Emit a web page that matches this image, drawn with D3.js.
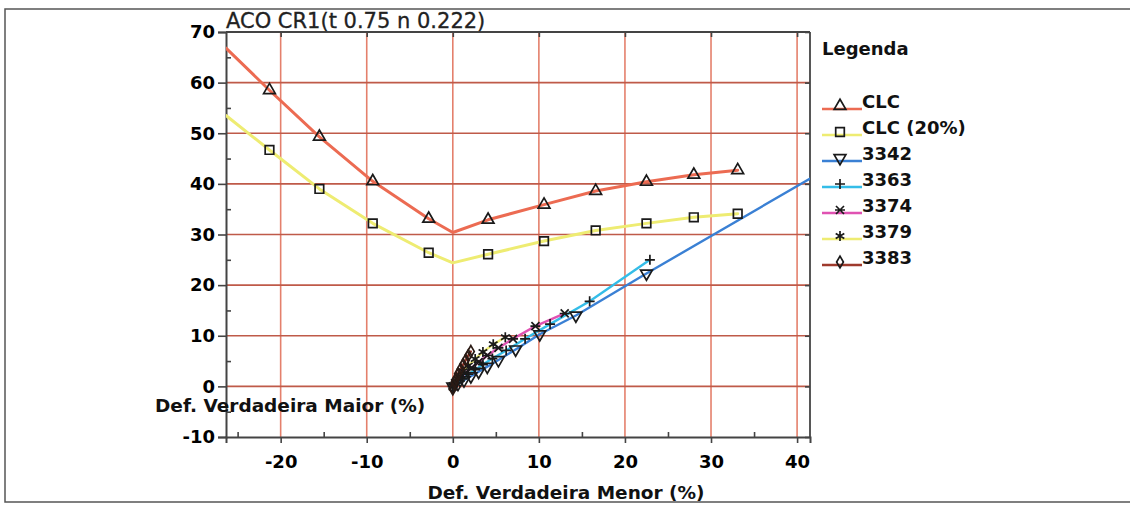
<!DOCTYPE html>
<html>
<head>
<meta charset="utf-8">
<script src="https://cdn.jsdelivr.net/npm/d3@7"></script>
<style>
  html, body { margin: 0; padding: 0; background: #fff; }
  svg { display: block; }
  .tick text { font-family: "DejaVu Sans", sans-serif; font-weight: bold; font-size: 18px; fill: #000; }
</style>
</head>
<body>
<svg id="chart" width="1130" height="506"></svg>
<script>
// ---- data -------------------------------------------------------------
const xTicks = [-20, -10, 0, 10, 20, 30, 40];
const xMinor = [-25, -15, -5, 5, 15, 25, 35];
const yTicks = [-10, 0, 10, 20, 30, 40, 50, 60, 70];
const yMinor = [-5, 5, 15, 25, 35, 45, 55, 65];

// CLC envelope (curve points; marked = drawn with a symbol)
const clcX      = [-26.35, -21.3, -15.5, -9.3, -2.8, 0.0, 4.1, 10.6, 16.6, 22.5, 28.0, 33.1];
const clcY      = [66.8, 58.5, 49.3, 40.5, 33.1, 30.4, 32.9, 35.9, 38.6, 40.4, 41.8, 42.7];
const clc20Y    = [53.5, 46.7, 39.0, 32.2, 26.4, 24.4, 26.1, 28.7, 30.8, 32.2, 33.4, 34.1];
const clcMarked = [false, true, true, true, true, false, true, true, true, true, true, true];

// test paths
const s3342X = [0, 0.6, 1.3, 2.1, 3.0, 4.0, 5.3, 7.3, 10.1, 14.3, 22.5, 44.0];
const s3342Y = [0, 0.5, 1.2, 2.0, 2.9, 3.9, 5.2, 7.3, 10.3, 14.0, 22.3, 43.5];
const s3363X = [0, 0.5, 1.1, 1.8, 2.6, 3.5, 4.6, 6.2, 8.4, 11.3, 15.9, 22.9];
const s3363Y = [0, 0.7, 1.5, 2.4, 3.3, 4.3, 5.5, 7.1, 9.4, 12.3, 16.8, 25.0];
const s3374X = [0, 0.4, 0.9, 1.5, 2.2, 3.0, 4.0, 5.3, 7.0, 9.6, 13.0];
const s3374Y = [0, 0.8, 1.7, 2.7, 3.7, 4.8, 6.1, 7.6, 9.4, 11.9, 14.4];
const s3379X = [0, 0.3, 0.7, 1.2, 1.8, 2.6, 3.5, 4.7, 6.1];
const s3379Y = [0, 0.9, 1.9, 3.0, 4.1, 5.4, 6.8, 8.3, 9.7];
const s3383X = [0, 0.2, 0.4, 0.6, 0.9, 1.2, 1.5, 1.8, 2.1];
const s3383Y = [-0.5, 0.8, 1.6, 2.5, 3.4, 4.3, 5.2, 6.1, 6.9];

const seriesNames = ["CLC", "CLC (20%)", "3342", "3363", "3374", "3379", "3383"];
const seriesColors = ["#ec6b52", "#eeec72", "#3a80d4", "#34bde8", "#e052b2", "#eeec72", "#9e3a2c"];

// ---- layout -----------------------------------------------------------
const svg = d3.select("#chart");
const pLeft = 226, pRight = 810, pTop = 32, pBottom = 437;
const x = d3.scaleLinear().domain([-26.35, 41.5]).range([pLeft, pRight]);
const y = d3.scaleLinear().domain([-10, 70]).range([pBottom, pTop]);
const plainNum = d => String(d);   // ASCII hyphen for negatives

// outer frame
svg.append("rect").attr("x", 5).attr("y", 9).attr("width", 1140).attr("height", 493)
  .attr("fill", "none").attr("stroke", "#555").attr("stroke-width", 1.5);

// grid
svg.append("g").selectAll("line").data(xTicks).join("line")
  .attr("x1", d => x(d)).attr("x2", d => x(d)).attr("y1", pTop).attr("y2", pBottom)
  .attr("stroke", "#e4806c").attr("stroke-width", 1.6);
svg.append("g").selectAll("line").data(yTicks.filter(v => v > -10 && v < 70)).join("line")
  .attr("x1", pLeft).attr("x2", pRight).attr("y1", d => y(d)).attr("y2", d => y(d))
  .attr("stroke", "#bf5a49").attr("stroke-width", 1.6);

// frame lines (top and right)
svg.append("line").attr("x1", pLeft).attr("x2", pRight).attr("y1", pTop).attr("y2", pTop)
  .attr("stroke", "#444").attr("stroke-width", 1.8);
svg.append("line").attr("x1", pRight).attr("x2", pRight).attr("y1", pTop).attr("y2", pBottom)
  .attr("stroke", "#444").attr("stroke-width", 1.8);

// axes
function styleAxis(g) {
  g.selectAll(".domain").attr("stroke", "#444").attr("stroke-width", 2);
  g.selectAll(".tick line").attr("stroke", "#444").attr("stroke-width", 1.6);
}
svg.append("g").attr("transform", `translate(0,${pBottom})`)
  .call(d3.axisBottom(x).tickValues(xTicks).tickSize(6).tickPadding(12).tickFormat(plainNum))
  .call(styleAxis);
svg.append("g").attr("transform", `translate(0,${pBottom})`)
  .call(d3.axisTop(x).tickValues(xMinor).tickSize(5).tickFormat(""))
  .call(styleAxis).call(g => g.select(".domain").remove());
svg.append("g").attr("transform", `translate(0,${pTop})`)
  .call(d3.axisBottom(x).tickValues(xTicks).tickSize(5).tickFormat(""))
  .call(styleAxis).call(g => g.select(".domain").remove());
svg.append("g").attr("transform", `translate(${pLeft},0)`)
  .call(d3.axisLeft(y).tickValues(yTicks).tickSize(8).tickPadding(3).tickFormat(plainNum))
  .call(styleAxis);
svg.append("g").attr("transform", `translate(${pLeft},0)`)
  .call(d3.axisRight(y).tickValues(yMinor).tickSize(5).tickFormat(""))
  .call(styleAxis).call(g => g.select(".domain").remove());
svg.append("g").attr("transform", `translate(${pRight},0)`)
  .call(d3.axisLeft(y).tickValues(yTicks).tickSize(5).tickFormat(""))
  .call(styleAxis).call(g => g.select(".domain").remove());

// ---- symbols ----------------------------------------------------------
const sym = {
  triUp:   d3.symbol().type(d3.symbolTriangle).size(60)(),
  square:  "M-4.3,-4.3H4.3V4.3H-4.3Z",
  triDown: d3.symbol().type(d3.symbolTriangle).size(60)(),
  plus:    "M-5,0H5M0,-5V5",
  cross:   "M-4,-4L4,4M-4,4L4,-4M-5,0H5",
  star:    "M0,-5V5M-4.3,-2.5L4.3,2.5M-4.3,2.5L4.3,-2.5",
  diamond: d3.symbol().type(d3.symbolDiamond).size(40)()
};
const symKeys = ["triUp", "square", "triDown", "plus", "cross", "star", "diamond"];

svg.append("clipPath").attr("id", "plotClip").append("rect")
  .attr("x", pLeft).attr("y", pTop).attr("width", pRight - pLeft).attr("height", pBottom - pTop);
const plot = svg.append("g").attr("clip-path", "url(#plotClip)");

const line = d3.line().x(d => x(d[0])).y(d => y(d[1]));

function zipPts(xs, ys) { return xs.map((v, i) => [v, ys[i]]); }

const series = [
  { pts: zipPts(clcX, clcY),   marked: clcMarked, w: 3 },
  { pts: zipPts(clcX, clc20Y), marked: clcMarked, w: 3 },
  { pts: zipPts(s3342X, s3342Y), w: 2.4 },
  { pts: zipPts(s3363X, s3363Y), w: 2.4 },
  { pts: zipPts(s3374X, s3374Y), w: 2.4 },
  { pts: zipPts(s3379X, s3379Y), w: 2.4 },
  { pts: zipPts(s3383X, s3383Y), w: 2.4 }
];

// lines first, then markers on top
series.forEach((s, i) => {
  plot.append("path").datum(s.pts).attr("d", line)
    .attr("fill", "none").attr("stroke", seriesColors[i]).attr("stroke-width", s.w)
    .attr("stroke-linejoin", "round").attr("stroke-linecap", "round");
});
series.forEach((s, i) => {
  const pts = s.pts.filter((p, j) => !s.marked || s.marked[j]);
  plot.append("g").selectAll("path").data(pts).join("path")
    .attr("d", sym[symKeys[i]])
    .attr("transform", d => `translate(${x(d[0])},${y(d[1])})` + (symKeys[i] === "triDown" ? " rotate(180)" : ""))
    .attr("fill", "none").attr("stroke", i === 6 ? "#2a1a14" : "#1a1a1a").attr("stroke-width", 1.7);
});

// ---- text -------------------------------------------------------------
svg.append("text").attr("x", 226).attr("y", 28)
  .attr("font-family", "DejaVu Sans, sans-serif").attr("font-size", 21).attr("fill", "#222")
  .attr("stroke", "#222").attr("stroke-width", 0.3)
  .text("ACO CR1(t 0.75 n 0.222)");

svg.append("text").attr("x", 155).attr("y", 412)
  .attr("font-family", "DejaVu Sans, sans-serif").attr("font-weight", "bold").attr("font-size", 18.5)
  .attr("fill", "#111").text("Def. Verdadeira Maior (%)");

svg.append("text").attr("x", 566).attr("y", 499).attr("text-anchor", "middle")
  .attr("font-family", "DejaVu Sans, sans-serif").attr("font-weight", "bold").attr("font-size", 18.5)
  .attr("fill", "#111").text("Def. Verdadeira Menor (%)");

// legend
svg.append("text").attr("x", 822).attr("y", 55)
  .attr("font-family", "DejaVu Sans, sans-serif").attr("font-weight", "bold").attr("font-size", 18)
  .attr("fill", "#111").text("Legenda");

const leg = svg.append("g").selectAll("g").data(seriesNames).join("g")
  .attr("transform", (d, i) => `translate(0,${109 + 26 * i})`);
leg.append("line").attr("x1", 822).attr("x2", 862).attr("y1", 0).attr("y2", 0)
  .attr("stroke", (d, i) => seriesColors[i]).attr("stroke-width", 2.6);
leg.append("path").attr("d", (d, i) => sym[symKeys[i]])
  .attr("transform", (d, i) => `translate(840,-3)` + (symKeys[i] === "triDown" ? " rotate(180)" : ""))
  .attr("fill", "none").attr("stroke", "#1a1a1a").attr("stroke-width", 1.7);
leg.append("text").attr("x", 862).attr("y", -1)
  .attr("font-family", "DejaVu Sans, sans-serif").attr("font-weight", "bold").attr("font-size", 18)
  .attr("fill", "#111").text(d => d);
</script>
</body>
</html>
